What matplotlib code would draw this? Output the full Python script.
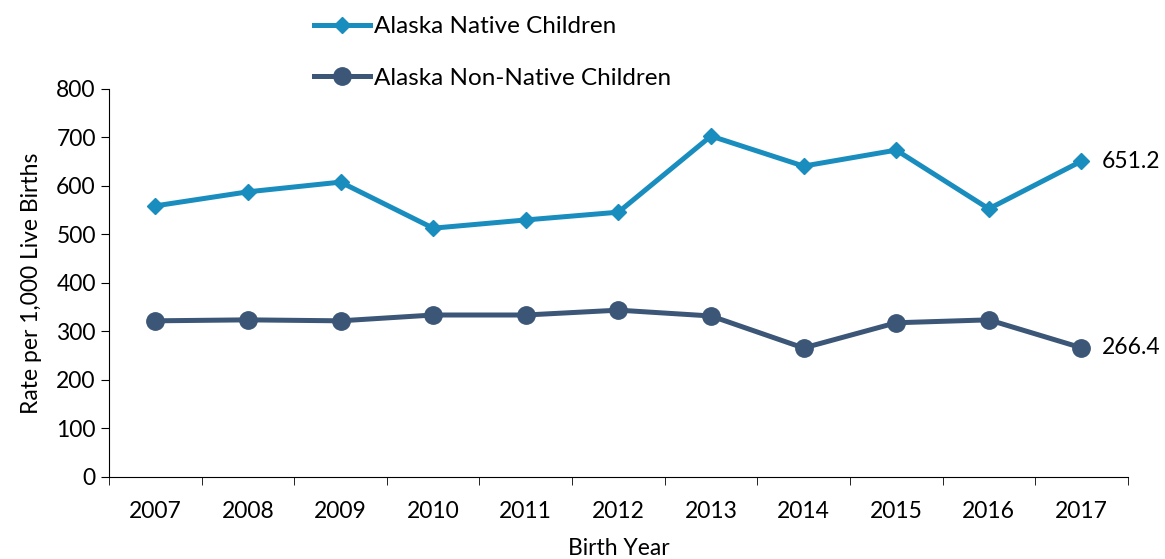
import matplotlib.pyplot as plt

years = ["2007", "2008", "2009", "2010", "2011", "2012",
         "2013", "2014", "2015", "2016", "2017"]
native = [559, 588, 608, 513, 530, 546, 703, 641, 674, 553, 651.2]
non_native = [322, 324, 322, 334, 334, 344, 332, 266, 318, 324, 266.4]

native_color = "#1a8dbf"
non_native_color = "#3b5677"

plt.rcParams["font.family"] = ["Lato", "DejaVu Sans"]
fs = 16.5

fig = plt.figure(figsize=(11.65, 5.59), dpi=100)
ax = fig.add_axes([0.0936, 0.1467, 0.8744, 0.6941])

x = list(range(len(years)))
ax.plot(x, native, color=native_color, lw=3.6, marker="D", ms=8.5,
        label="Alaska Native Children")
ax.plot(x, non_native, color=non_native_color, lw=3.6, marker="o", ms=12.5,
        label="Alaska Non-Native Children")

# value labels for the final year
ax.annotate(f"{native[-1]:.1f}", (x[-1], native[-1]), xytext=(15, 0),
            textcoords="offset points", va="center", fontsize=fs)
ax.annotate(f"{non_native[-1]:.1f}", (x[-1], non_native[-1]), xytext=(15, 0),
            textcoords="offset points", va="center", fontsize=fs)

ax.set_xlim(-0.5, len(years) - 0.5)
ax.set_ylim(0, 800)
ax.set_yticks(range(0, 801, 100))
ax.set_xticks(x)
ax.set_xticklabels(years)
ax.set_xticks([i - 0.5 for i in range(len(years) + 1)], minor=True)
ax.tick_params(axis="x", which="major", length=0, pad=17, labelsize=fs)
ax.tick_params(axis="x", which="minor", length=6, direction="out")
ax.tick_params(axis="y", length=6, direction="out", labelsize=fs)

for side in ("top", "right"):
    ax.spines[side].set_visible(False)

ax.set_xlabel("Birth Year", fontsize=fs, labelpad=12)
ax.set_ylabel("Rate per 1,000 Live Births", fontsize=fs, labelpad=10)

fig.legend(loc="upper left", bbox_to_anchor=(0.251, 1.01), frameon=False,
           fontsize=17.5, handlelength=2.3, handletextpad=0.15,
           labelspacing=1.25)

fig.savefig("out.png", dpi=100)
